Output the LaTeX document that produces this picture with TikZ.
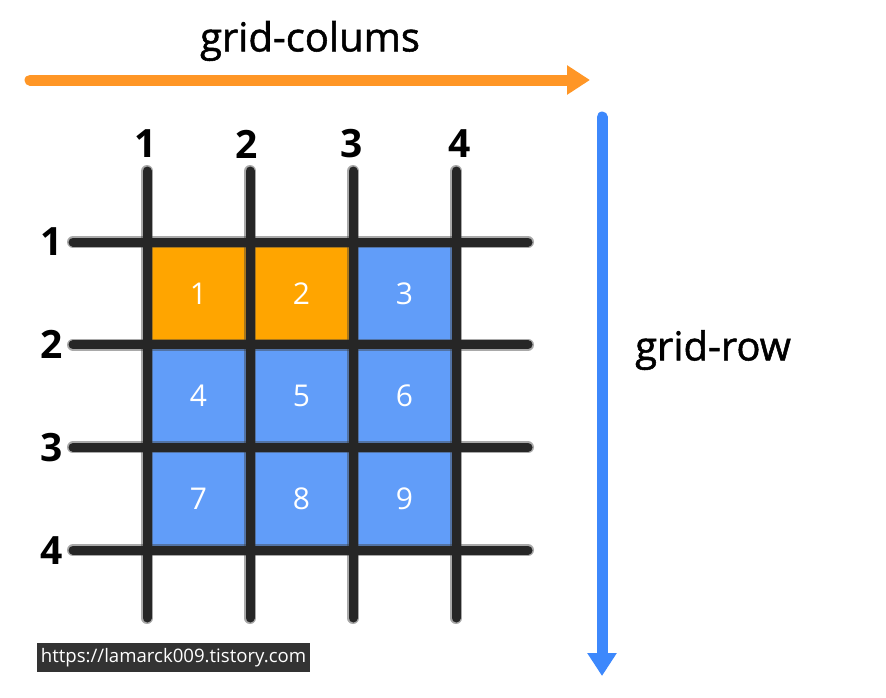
\documentclass[tikz,border=0pt]{standalone}
\usepackage{fontspec}
\setmainfont{Open Sans}
\newfontfamily\titlefont[FakeBold=1.3]{Open Sans}
\usetikzlibrary{arrows.meta}
\definecolor{cellorange}{HTML}{FFA500}
\definecolor{cellblue}{HTML}{619DF9}
\definecolor{colsarrow}{HTML}{FF9626}
\definecolor{rowsarrow}{HTML}{3D88FC}
\definecolor{urlbox}{HTML}{333333}
\begin{document}
\begin{tikzpicture}[x=0.5pt,y=-0.5pt,
    gridhalo/.style={line width=6pt,line cap=round,draw=black!75,opacity=0.45},
    gridline/.style={line width=4.5pt,line cap=round,draw=black!85},
    cell/.style={minimum width=51.5pt,minimum height=51.35pt,inner sep=0pt,
        text=white,font=\fontsize{15}{15}\selectfont},
    axisnum/.style={font=\bfseries\fontsize{19.5}{20}\selectfont},
    axistitle/.style={font=\titlefont\fontsize{20}{22}\selectfont},
    axisarrow/.style={line width=5.5pt,line cap=round,
        -{Triangle[length=11.5pt,width=14pt]}}]
    \useasboundingbox (0,0) rectangle (886,697);
    % Ячейки 3x3: первые две оранжевые, остальные синие.
    \foreach \n/\c in {1/cellorange,2/cellorange,3/cellblue,4/cellblue,5/cellblue,
                       6/cellblue,7/cellblue,8/cellblue,9/cellblue} {
        \pgfmathsetmacro{\cx}{198.5+103*mod(\n-1,3)}
        \pgfmathsetmacro{\cy}{293.5+102.7*int((\n-1)/3)}
        \node[cell,fill=\c] (cell\n) at (\cx,\cy) {\n};
    }
    \foreach \s in {gridhalo,gridline} {
        \foreach \i in {0,...,3} {
            \draw[\s] ({147+103*\i},171) -- ({147+103*\i},618);
            \draw[\s] (73,{242+102.7*\i}) -- (528,{242+102.7*\i});
        }
    }
    \foreach \i/\x in {1/146,2/247,3/352,4/460}
        \node[axisnum] (col\i) at (\x,144) {\i};
    \foreach \i in {1,...,4}
        \node[axisnum] (row\i) at (52,{242+102.7*(\i-1)}) {\i};
    \coordinate (colsfrom) at (30,80);
    \coordinate (colsto) at (590,80);
    \draw[axisarrow,draw=colsarrow,fill=colsarrow] (colsfrom) -- (colsto);
    \node[axistitle] (colstitle) at (310,41) {grid-colums};
    \coordinate (rowsfrom) at (602,117);
    \coordinate (rowsto) at (602,676);
    \draw[axisarrow,draw=rowsarrow,fill=rowsarrow] (rowsfrom) -- (rowsto);
    \node[axistitle] (rowstitle) at (713,350) {grid-row};
    \node[fill=urlbox,text=white,minimum width=136.5pt,minimum height=14.5pt,
        inner sep=0pt,font=\fontsize{9.3}{10}\selectfont] (url) at (173.5,657.5)
        {https://lamarck009.tistory.com};
\end{tikzpicture}
\end{document}
